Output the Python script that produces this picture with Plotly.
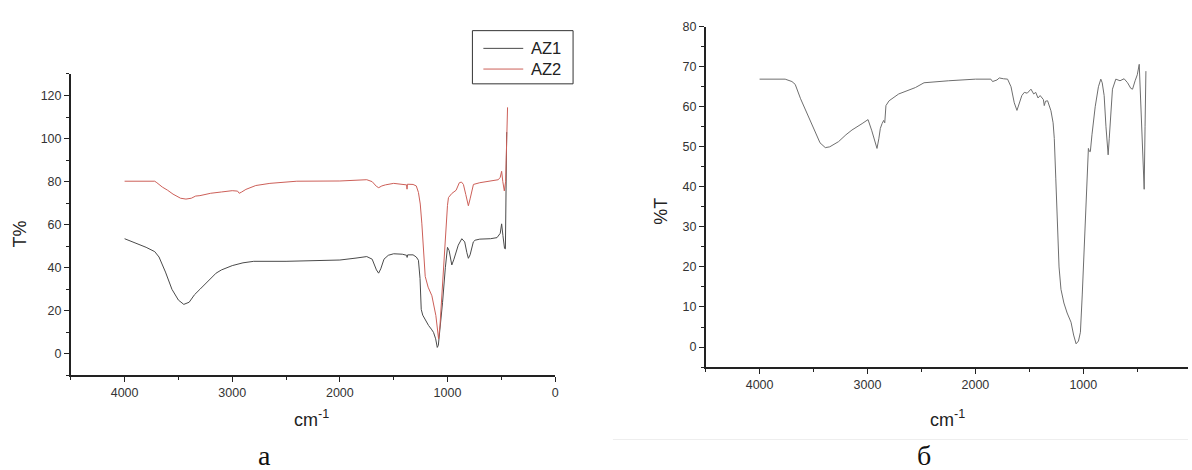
import plotly.graph_objects as go

# ---- Panel а : AZ1 / AZ2 ----
az1_w = [4000, 3900, 3800, 3720, 3680, 3620, 3560, 3500, 3450, 3400, 3350, 3300, 3250, 3200, 3150, 3100,
         3000, 2900, 2800, 2500, 2200, 2000, 1850, 1750, 1700, 1660, 1640, 1620, 1590, 1550, 1500, 1420,
         1380, 1375, 1370, 1320, 1290, 1270, 1255, 1244, 1230, 1200, 1176, 1150, 1130, 1110, 1095, 1085,
         1060, 1046, 1020, 1000, 985, 960, 940, 900, 867, 840, 820, 806, 790, 760, 744, 700, 600, 540,
         510, 497, 485, 470, 462, 455, 450]
az1_t = [53.5, 51.5, 49.5, 47.5, 45, 38, 30, 25, 23, 24, 27.5, 30, 32.5, 35, 37.5, 39,
         41, 42.3, 43, 43, 43.2, 43.6, 44.5, 45.2, 44, 39, 37.5, 39.5, 44, 45.8, 46.5, 46.3,
         45.8, 44.8, 46, 46, 45, 43.5, 35, 20.7, 18, 15, 13.2, 11.5, 10, 7, 3, 4,
         15, 23.8, 40, 49.5, 48, 41.3, 44, 50.5, 53.5, 52, 47, 44.4, 46, 52, 52.8, 53.3, 53.5, 54,
         56, 60.4, 55, 49, 48.8, 75, 103]

az2_w = [4000, 3800, 3720, 3700, 3650, 3600, 3550, 3480, 3430, 3380, 3340, 3300, 3200, 3100, 3000, 2950,
         2935, 2915, 2873, 2781, 2650, 2400, 2000, 1750, 1700, 1660, 1639, 1610, 1577, 1500, 1400, 1380,
         1376, 1372, 1320, 1290, 1270, 1253, 1238, 1207, 1180, 1145, 1108, 1090, 1083, 1070, 1053, 1021,
         1000, 991, 960, 920, 890, 870, 852, 830, 806, 790, 759, 700, 620, 528, 510, 497, 486, 472, 460,
         450, 442]
az2_t = [80.2, 80.2, 80.2, 79.5, 77.5, 76, 74.2, 72.3, 71.9, 72.3, 73.3, 73.5, 74.6, 75.2, 75.8, 75.6,
         74.6, 75.1, 76.4, 78.2, 79.2, 80.2, 80.3, 80.9, 80, 77.8, 77.2, 78, 78.5, 79.2, 78.8, 78.5,
         76.5, 78.8, 78.7, 78, 75, 69.6, 60.4, 36, 31, 27, 17.8, 9, 7, 13, 27, 57.4,
         69, 72.6, 74.5, 76, 79.5, 79.8, 78.7, 74, 68.8, 72, 78.7, 79.5, 80.2, 80.9, 82, 84.8, 80, 75.7, 80,
         100, 114.5]

# ---- Panel б ----
b_w = [4000, 3763, 3700, 3670, 3620, 3577, 3530, 3484, 3440, 3391, 3350, 3300, 3268, 3200, 3144, 3050,
       2995, 2960, 2930, 2912, 2895, 2881, 2865, 2850, 2840, 2829, 2800, 2711, 2556, 2476, 2247, 2000,
       1857, 1841, 1800, 1779, 1740, 1702, 1670, 1640, 1615, 1590, 1570, 1547, 1520, 1485, 1460, 1441,
       1420, 1400, 1370, 1362, 1350, 1331, 1300, 1280, 1269, 1255, 1237, 1225, 1207, 1180, 1150, 1114,
       1090, 1067, 1045, 1027, 1010, 990, 970, 959, 953, 945, 935, 920, 890, 860, 838, 825, 807, 790,
       775, 770, 760, 745, 730, 699, 660, 622, 590, 560, 544, 520, 500, 482, 470, 455, 440, 436, 428, 420]
b_t = [66.9, 66.9, 66.3, 65.6, 62, 59.5, 56.5, 53.7, 51, 49.8, 50, 50.8, 51.3, 53, 54.2, 55.8,
       56.8, 54, 51, 49.6, 52, 54.6, 55.8, 56.6, 56, 60.3, 61.5, 63.2, 64.8, 66, 66.5, 66.9,
       66.9, 66.3, 66.7, 67.2, 67, 66.9, 65, 61, 59.1, 61, 62.8, 63.6, 63.4, 64.4, 63.2, 63.6,
       62.2, 62.8, 61.8, 60.3, 61.4, 61.5, 59, 56, 52.1, 42, 27.5, 20, 14.4, 11, 8.5, 6.2,
       3, 0.8, 1.5, 3.7, 13, 27.5, 42, 49.6, 49.6, 48.9, 48.8, 53, 60, 65, 66.9, 66, 62.8, 55,
       49, 48, 52, 59, 64.4, 66.9, 66.5, 67, 66, 64.6, 64.4, 66.5, 68, 70.6, 62, 52, 41, 39.4, 55, 68.9]

series_names = ["AZ1", "AZ2"]
series_colors = ["#4a4a4a", "#cc5f58"]

x_ticks = [4000, 3000, 2000, 1000, 0]
y_ticks_a = [0, 20, 40, 60, 80, 100, 120]
y_ticks_b = [0, 10, 20, 30, 40, 50, 60, 70, 80]

W, H = 1192, 470
FONT = "Liberation Sans, Arial, sans-serif"

fig = go.Figure()
for w, t, nm, col in ((az1_w, az1_t, series_names[0], series_colors[0]),
                      (az2_w, az2_t, series_names[1], series_colors[1])):
    fig.add_trace(go.Scatter(x=w, y=t, mode="lines", name=nm, showlegend=False,
                             line=dict(color=col, width=1), xaxis="x", yaxis="y"))
fig.add_trace(go.Scatter(x=b_w, y=b_t, mode="lines", name="б", showlegend=False,
                         line=dict(color="#6e6e6e", width=1), xaxis="x2", yaxis="y2"))

def xax(domain, rng):
    return dict(domain=domain, range=rng, tickvals=x_ticks, ticks="outside", ticklen=5, tickwidth=1.2,
                tickcolor="#222", showline=True, linecolor="#222", linewidth=1.5, showgrid=False,
                zeroline=False, tickfont=dict(family=FONT, size=12.5, color="#333"),
                minor=dict(dtick=500, tick0=0, ticks="outside", ticklen=3, tickcolor="#222", showgrid=False))

def yax(domain, rng, tv, mdt, anchor):
    return dict(domain=domain, range=rng, tickvals=tv, ticks="outside", ticklen=5, tickwidth=1.2,
                tickcolor="#222", showline=True, linecolor="#222", linewidth=1.5, showgrid=False,
                zeroline=False, anchor=anchor, tickfont=dict(family=FONT, size=12.5, color="#333"),
                minor=dict(dtick=mdt, tick0=0, ticks="outside", ticklen=3, tickcolor="#222", showgrid=False))

xa = xax([71 / W, 557 / W], [4500, 0]); xa["anchor"] = "y"
xb = xax([708 / W, 1.0], [4500, 30]); xb["anchor"] = "y2"

fig.update_layout(
    width=W, height=H, margin=dict(l=0, r=0, t=0, b=0),
    paper_bgcolor="white", plot_bgcolor="white",
    xaxis=xa, xaxis2=xb,
    yaxis=yax([(H - 374) / H, (H - 68) / H], [-10, 130], y_ticks_a, 10, "x"),
    yaxis2=yax([(H - 365.5) / H, (H - 20) / H], [-5, 80], y_ticks_b, 5, "x2"),
    showlegend=False,
)

def px(x):
    return x / W

def py(y):
    return (H - y) / H

# Legend box drawn by hand (positions in pixels)
fig.add_shape(type="rect", xref="paper", yref="paper", x0=px(474), x1=px(575), y0=py(78), y1=py(24),
              line=dict(color="#333", width=1), fillcolor="white", layer="above")
for i, (nm, col) in enumerate(zip(series_names, series_colors)):
    yy = 42 + 21 * i
    fig.add_shape(type="line", xref="paper", yref="paper", x0=px(485), x1=px(525), y0=py(yy), y1=py(yy),
                  line=dict(color=col, width=1), layer="above")
    fig.add_annotation(text=nm, x=px(531), y=py(yy), xref="paper", yref="paper", showarrow=False,
                       xanchor="left", yanchor="middle", font=dict(family=FONT, size=16.5, color="#222"))

ann = [
    dict(text="T%", x=px(20), y=py(230), textangle=-90, font=dict(size=18)),
    dict(text="cm<sup>-1</sup>", x=px(313), y=py(418), font=dict(size=18)),
    dict(text="%T", x=px(663), y=py(207), textangle=-90, font=dict(size=18)),
    dict(text="cm<sup>-1</sup>", x=px(951), y=py(418), font=dict(size=18)),
]
for a in ann:
    a.update(xref="paper", yref="paper", showarrow=False, xanchor="center", yanchor="middle")
    a["font"].update(family=FONT, color="#222")
    fig.add_annotation(**a)

for txt, cx in (("а", 265), ("б", 927)):
    fig.add_annotation(text=txt, x=px(cx), y=0, yshift=-3, xref="paper", yref="paper",
                       showarrow=False, xanchor="center", yanchor="bottom",
                       font=dict(family="Liberation Serif, Times New Roman, serif", size=28, color="#111"))

fig.add_shape(type="line", xref="paper", yref="paper", x0=px(615), x1=1.0,
              y0=py(439), y1=py(439), line=dict(color="#eeeeee", width=1))

fig.write_html("out.html")
